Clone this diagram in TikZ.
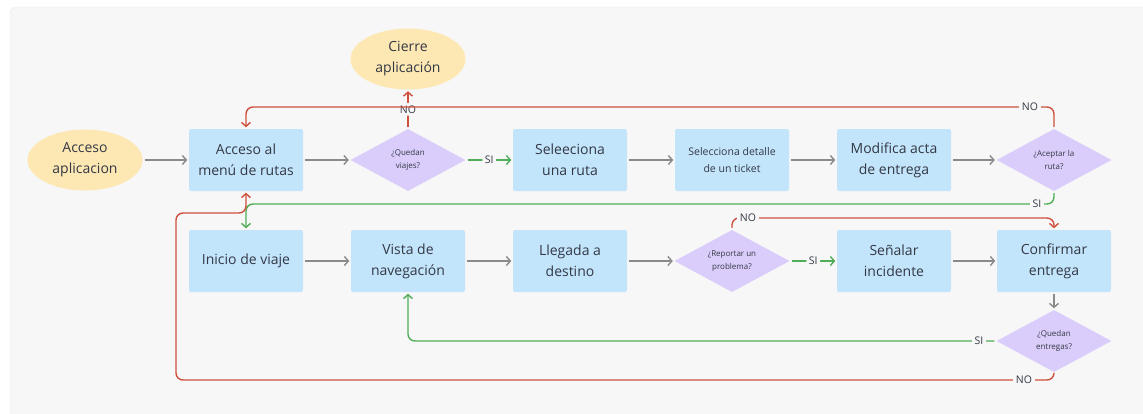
\documentclass[tikz,border=0pt]{standalone}
\usepackage{fontspec}
\setmainfont{Open Sans}
\usetikzlibrary{arrows.meta,shapes.geometric}
\definecolor{panel}{HTML}{F7F7F7}
\definecolor{panelline}{HTML}{EAEAEA}
\definecolor{procblue}{HTML}{C3E5FC}
\definecolor{termyellow}{HTML}{FDE8B4}
\definecolor{declav}{HTML}{DACDFB}
\definecolor{ink}{HTML}{333844}
\definecolor{flowgray}{HTML}{8A8A8A}
\definecolor{nored}{HTML}{D0503E}
\definecolor{yesgreen}{HTML}{4FAE58}
\begin{document}
\begin{tikzpicture}[x=1pt,y=-1pt,
  proc/.style={rectangle, fill=procblue, rounded corners=2pt, minimum width=114pt,
    minimum height=62pt, align=center, text=ink, font=\fontsize{14}{21}\selectfont},
  term/.style={ellipse, fill=termyellow, minimum width=115pt, minimum height=61pt,
    align=center, text=ink, font=\fontsize{14}{21}\selectfont},
  dec/.style={diamond, fill=declav, minimum width=115pt, minimum height=62pt,
    inner sep=0pt, aspect=1.85, align=center, text=ink,
    font=\fontsize{8}{13}\selectfont},
  conn/.style={line width=1.4pt, -{Straight Barb[length=4pt,width=9pt,line width=1.4pt]},
    shorten >=1.5pt, shorten <=2pt},
  flow/.style={conn, draw=flowgray},
  yes/.style={conn, draw=yesgreen, rounded corners=7pt},
  no/.style={conn, draw=nored, rounded corners=7pt},
  lbl/.style={fill=panel, inner sep=2.5pt, text=ink, font=\fontsize{10.5}{12}\selectfont}
]
\useasboundingbox (0,0) rectangle (1143,413);
\fill[white] (0,0) rectangle (1143,413);
\draw[panelline, fill=panel, rounded corners=6pt] (10,7) rectangle (1170,430);

% first row
\node[term] (acc) at (85,160) {Acceso\\aplicacion};
\node[proc] (menu) at (246,160) {Acceso al\\menú de rutas};
\node[dec] (qviajes) at (408,160) {¿Quedan\\viajes?};
\node[term] (cierre) at (408,59) {Cierre\\aplicación};
\node[proc] (ruta) at (570,160) {Seleeciona\\una ruta};
\node[proc, font=\fontsize{10.5}{17}\selectfont] (ticket) at (732,160) {Selecciona detalle\\de un ticket};
\node[proc] (acta) at (894,160) {Modifica acta\\de entrega};
\node[dec] (aceptar) at (1054,160) {¿Aceptar la\\ruta?};

% second row
\node[proc] (inicio) at (246,261) {Inicio de viaje};
\node[proc] (vista) at (408,261) {Vista de\\navegación};
\node[proc] (llegada) at (570,261) {Llegada a\\destino};
\node[dec] (reportar) at (732,261) {¿Reportar un\\problema?};
\node[proc] (senal) at (894,261) {Señalar\\incidente};
\node[proc] (confirmar) at (1054,261) {Confirmar\\entrega};
\node[dec] (qentregas) at (1054,341) {¿Quedan\\entregas?};

% straight flow
\draw[flow] (acc) -- (menu);
\draw[flow] (menu) -- (qviajes);
\draw[flow] (ruta) -- (ticket);
\draw[flow] (ticket) -- (acta);
\draw[flow] (acta) -- (aceptar);
\draw[flow] (inicio) -- (vista);
\draw[flow] (vista) -- (llegada);
\draw[flow] (llegada) -- (reportar);
\draw[flow] (senal) -- (confirmar);
\draw[flow] (confirmar) -- (qentregas);

% decisions
\draw[yes] (qviajes) -- node[lbl] (siA) {SI} (ruta);
\draw[no] (qviajes.north) -- node[lbl] (noA) {NO} (cierre.south);

\draw[no] (aceptar.north) -- (aceptar.north |- 0,107) -- (menu.north |- 0,107) -- (menu.north);
\node[lbl] (noB) at (1030,107) {NO};

\draw[yes] (aceptar.south) -- (aceptar.south |- 0,204) -- (inicio.north |- 0,204) -- (inicio.north);
\node[lbl] (siB) at (1037,204) {SI};

\draw[yes] (reportar) -- node[lbl] (siC) {SI} (senal);
\draw[no] (reportar.north) -- (reportar.north |- 0,218) -- (confirmar.north |- 0,218) -- (confirmar.north);
\node[lbl] (noC) at (748,218) {NO};

\draw[yes] (qentregas.west) -- (vista.south |- qentregas.west) -- (vista.south);
\node[lbl] (siD) at (979,341) {SI};

\draw[no] (qentregas.south) -- (qentregas.south |- 0,380) -- (176,380) -- (176,213)
  -- (menu.south |- 0,213) -- (menu.south);
\node[lbl] (noD) at (1024,380) {NO};
\end{tikzpicture}
\end{document}
